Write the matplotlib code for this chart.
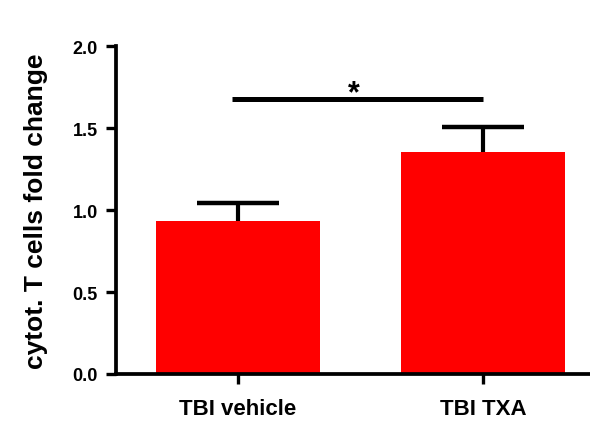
import matplotlib
matplotlib.use("Agg")
import matplotlib.pyplot as plt

categories = ["TBI vehicle", "TBI TXA"]
means = [0.933, 1.352]
sem = [0.110, 0.156]
yticks = [0.0, 0.5, 1.0, 1.5, 2.0]
ytick_labels = ["0.0", "0.5", "1.0", "1.5", "2.0"]
sig_y = 1.677
sig_label = "*"

plt.rcParams['font.family'] = ['Liberation Sans', 'DejaVu Sans']
plt.rcParams['font.weight'] = 'bold'

fig = plt.figure(figsize=(5.9, 4.27), dpi=100)
ax = fig.add_axes([0.1966, 0.1218, 0.8034, 0.768])

x = list(range(len(categories)))
bar_w = 0.67
cap_half = 0.167
ax.bar(x, means, width=bar_w, color='#ff0000', zorder=2)
upper = [m + s for m, s in zip(means, sem)]
ax.vlines(x, means, upper, colors='black', lw=3.0, zorder=1)
ax.hlines(upper, [xi - cap_half for xi in x], [xi + cap_half for xi in x],
          colors='black', lw=3.2, zorder=1)

ax.plot([x[0] - 0.025, x[1]], [sig_y, sig_y], color='black', lw=3.6, solid_capstyle='butt')
ax.text((x[0] - 0.025 + x[1]) / 2 - 0.015, sig_y - 0.015, sig_label, ha='center', va='baseline',
        fontsize=22, fontweight='bold')

ax.set_xlim(-0.498, 1.437)
ax.set_ylim(0, 2.0)
ax.set_yticks(yticks)
ax.set_yticklabels(ytick_labels)
ax.set_xticks(x)
ax.set_xticklabels(categories)

for s in ['top', 'right']:
    ax.spines[s].set_visible(False)
for s in ['left', 'bottom']:
    ax.spines[s].set_linewidth(2.7)
ax.spines['left'].set_bounds(0, 2.0)

ax.tick_params(axis='both', width=2.4, length=7, direction='out')
ax.tick_params(axis='y', labelsize=13, pad=6)
ax.tick_params(axis='x', labelsize=16, pad=10)
for lab in ax.get_xticklabels() + ax.get_yticklabels():
    lab.set_fontweight('bold')

ax.set_ylabel("cytot. T cells fold change", fontsize=19, fontweight='bold', labelpad=18)

fig.savefig("out.png", dpi=100)
